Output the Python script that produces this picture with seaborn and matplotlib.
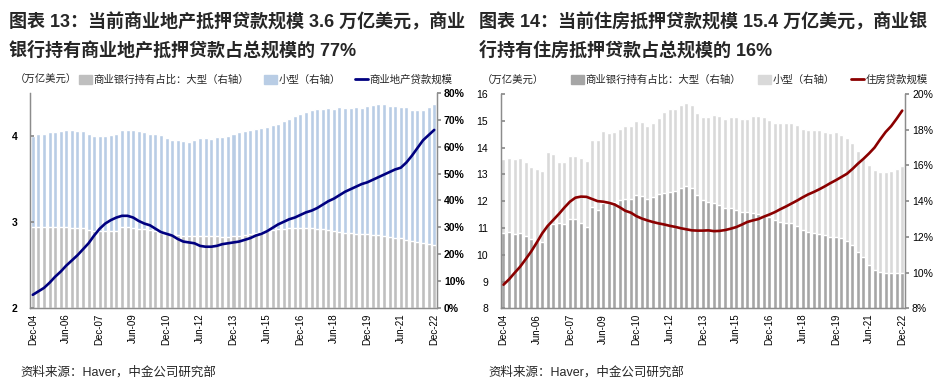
import numpy as np
import pandas as pd
import matplotlib
matplotlib.use("Agg")
import matplotlib.pyplot as plt
import matplotlib.ticker as mticker
from matplotlib.patches import Patch
from matplotlib.lines import Line2D
import seaborn as sns


# ── Data ──────────────────────────────────────────────────────────────────────

quarters = pd.period_range("2004Q4", "2022Q4", freq="Q")
quarter_labels = [p.end_time.strftime("%b-%y") for p in quarters]

# Chart 13: commercial real estate loans (left axis, tn USD) and bank shares (%)
cre_loans = [
    2.15, 2.19, 2.23, 2.29, 2.36, 2.42, 2.49, 2.55, 2.61, 2.68,
    2.75, 2.84, 2.92, 2.98, 3.02, 3.05, 3.07, 3.07, 3.05, 3.01,
    2.98, 2.96, 2.92, 2.88, 2.86, 2.84, 2.80, 2.77, 2.76, 2.75,
    2.72, 2.71, 2.71, 2.72, 2.74, 2.75, 2.76, 2.77, 2.79, 2.81,
    2.84, 2.86, 2.89, 2.93, 2.97, 3.00, 3.03, 3.05, 3.08, 3.11,
    3.13, 3.16, 3.20, 3.24, 3.27, 3.31, 3.35, 3.38, 3.41, 3.44,
    3.46, 3.49, 3.52, 3.55, 3.58, 3.61, 3.63, 3.69, 3.77, 3.86,
    3.95, 4.01, 4.07,
]
cre_total_share = [
    64.1, 64.7, 64.8, 65.6, 65.5, 65.9, 66.2, 66.2, 65.8, 65.9,
    64.9, 63.8, 63.8, 64.1, 64.2, 64.7, 66.2, 66.2, 66.2, 65.9,
    65.5, 64.8, 64.8, 64.3, 63.2, 62.6, 62.5, 62.3, 61.9, 62.6,
    63.3, 63.4, 63.0, 63.6, 63.6, 64.0, 64.6, 65.3, 65.9, 66.3,
    66.7, 66.8, 67.4, 67.9, 68.5, 69.4, 70.4, 71.6, 72.2, 72.9,
    73.8, 74.0, 74.1, 74.4, 74.2, 74.6, 74.4, 74.4, 74.8, 74.4,
    75.0, 75.5, 75.9, 75.8, 75.3, 75.3, 74.9, 74.6, 73.7, 73.8,
    73.8, 74.9, 76.0,
]
cre_large_share = [
    30.0, 29.9, 30.0, 30.0, 29.9, 29.9, 29.9, 29.8, 29.7, 29.6,
    29.1, 28.6, 28.6, 28.5, 28.6, 28.7, 30.1, 30.0, 29.8, 29.5,
    29.3, 28.9, 28.5, 27.8, 27.6, 27.2, 27.0, 26.9, 26.9, 26.8,
    26.8, 26.7, 26.7, 26.7, 26.5, 26.5, 26.6, 26.8, 27.2, 27.5,
    27.9, 28.2, 28.6, 28.9, 29.2, 29.4, 29.6, 29.7, 29.7, 29.7,
    29.6, 29.4, 29.2, 28.9, 28.5, 28.1, 28.0, 27.8, 27.6, 27.4,
    27.3, 27.2, 27.1, 26.8, 26.4, 26.1, 25.8, 25.2, 24.7, 24.3,
    24.0, 23.8, 23.5,
]

# Chart 14: residential mortgage loans (left axis, tn USD) and bank shares (%)
home_loans = [
    8.88, 9.08, 9.32, 9.55, 9.83, 10.12, 10.45, 10.80, 11.08, 11.30,
    11.52, 11.76, 11.98, 12.13, 12.17, 12.16, 12.08, 12.00, 11.98, 11.94,
    11.88, 11.77, 11.64, 11.57, 11.44, 11.35, 11.28, 11.22, 11.17, 11.13,
    11.08, 11.04, 10.99, 10.95, 10.91, 10.90, 10.90, 10.91, 10.88, 10.89,
    10.92, 10.97, 11.03, 11.12, 11.22, 11.28, 11.33, 11.42, 11.50, 11.59,
    11.70, 11.80, 11.91, 12.02, 12.14, 12.25, 12.34, 12.44, 12.55, 12.67,
    12.78, 12.90, 13.02, 13.20, 13.40, 13.58, 13.78, 14.00, 14.30, 14.58,
    14.80, 15.08, 15.38,
]
home_total_share = [
    16.35, 16.40, 16.36, 16.40, 16.20, 15.92, 15.80, 15.68, 16.78, 16.63,
    16.22, 16.20, 16.55, 16.55, 16.43, 16.25, 17.45, 17.42, 17.93, 17.83,
    17.90, 18.02, 18.20, 18.20, 18.50, 18.43, 18.23, 18.35, 18.65, 19.00,
    19.18, 19.18, 19.40, 19.48, 19.37, 18.95, 18.72, 18.70, 18.80, 18.76,
    18.58, 18.70, 18.72, 18.58, 18.58, 18.78, 18.78, 18.72, 18.55, 18.40,
    18.35, 18.35, 18.40, 18.25, 18.04, 17.98, 17.98, 17.98, 17.85, 17.83,
    17.85, 17.70, 17.52, 17.27, 16.81, 16.34, 16.02, 15.74, 15.61, 15.61,
    15.70, 15.78, 15.97,
]
home_large_share = [
    12.23, 12.28, 12.17, 12.20, 12.05, 11.90, 11.78, 11.72, 12.73, 12.73,
    12.76, 12.73, 12.98, 12.98, 12.80, 12.58, 13.67, 13.48, 13.88, 13.88,
    13.93, 14.08, 14.12, 14.12, 14.33, 14.30, 14.12, 14.26, 14.38, 14.45,
    14.50, 14.56, 14.72, 14.87, 14.72, 14.33, 14.05, 13.95, 13.88, 13.78,
    13.63, 13.63, 13.50, 13.41, 13.38, 13.32, 13.26, 13.17, 13.14, 12.94,
    12.85, 12.80, 12.76, 12.62, 12.38, 12.29, 12.23, 12.16, 12.10, 12.01,
    11.97, 11.92, 11.79, 11.55, 11.17, 10.89, 10.42, 10.14, 10.05, 9.99,
    9.99, 9.96, 9.96,
]


# ── Style ─────────────────────────────────────────────────────────────────────

sns.set_theme(style="white")
FONTS = ["Liberation Sans", "Noto Sans CJK SC", "DejaVu Sans"]
plt.rcParams.update({
    "font.family": FONTS,
    "axes.edgecolor": "#8C8C8C",
    "axes.linewidth": 0.9,
    "xtick.color": "#8C8C8C",
    "ytick.color": "#8C8C8C",
    "xtick.labelcolor": "black",
    "ytick.labelcolor": "black",
})

SPINE = "#8C8C8C"


def draw_panel(fig, rect, loans, total, large, colors,
               left_lim, left_ticks, right_lim, right_ticks, bold_ticks):
    pos = np.arange(len(quarters))

    ax = fig.add_axes(rect)
    ax2 = ax.twinx()

    # bars on the right (share) axis: full height = small + large
    sns.barplot(x=pos, y=total, native_scale=True, color=colors["small"],
                saturation=1, width=0.72, errorbar=None, ax=ax2)
    sns.barplot(x=pos, y=large, native_scale=True, color=colors["large"],
                saturation=1, width=0.72, errorbar=None, ax=ax2)

    # loan volume line on the left axis, drawn above the bars
    sns.lineplot(x=pos, y=loans, color=colors["line"], lw=1.9, ax=ax)
    ax.set_zorder(ax2.get_zorder() + 1)
    ax.patch.set_visible(False)

    ax.set_xlim(-0.5, len(quarters) - 0.5)
    ax.set_ylim(*left_lim)
    ax.set_yticks(left_ticks)
    ax2.set_ylim(*right_lim)
    ax2.set_yticks(right_ticks)
    ax2.yaxis.set_major_formatter(mticker.FuncFormatter(lambda v, _: f"{v:.0f}%"))

    ax.set_xticks(pos[::6])
    ax.set_xticklabels(quarter_labels[::6], rotation=90)
    ax.set_xlabel("")
    ax.set_ylabel("")
    ax2.set_xlabel("")
    ax2.set_ylabel("")

    weight = "bold" if bold_ticks else "normal"
    ax.tick_params(axis="x", length=0, pad=4, labelsize=7)
    ax.tick_params(axis="y", direction="in", length=3, pad=9, labelsize=7.5)
    ax2.tick_params(axis="y", direction="out", length=3, pad=2, labelsize=7.5)
    for lab in ax.get_yticklabels() + ax2.get_yticklabels():
        lab.set_fontweight(weight)

    for a in (ax, ax2):
        a.spines["top"].set_visible(False)
        for s in ("left", "right", "bottom"):
            a.spines[s].set_color(SPINE)
    return ax, ax2


fig = plt.figure(figsize=(9.49, 3.86), dpi=100)
fig.patch.set_facecolor("white")

LEGEND_KW = dict(loc="center left", ncol=3, frameon=False, fontsize=7.5,
                 handlelength=1.25, handleheight=0.9, handletextpad=0.15,
                 borderpad=0, borderaxespad=0)

# ── Chart 13 ──────────────────────────────────────────────────────────────────
left_colors = {"large": "#BFBFBF", "small": "#B9CDE5", "line": "#000080"}
draw_panel(fig, [30 / 949, 1 - 307.7 / 386, 407 / 949, 214.7 / 386],
           cre_loans, cre_total_share, cre_large_share, left_colors,
           (2, 4.5), [2, 3, 4], (0, 80), list(range(0, 81, 10)), True)

fig.text(9 / 949, 1 - 22 / 386, "图表 13：当前商业地产抵押贷款规模 3.6 万亿美元，商业",
         fontsize=13, fontweight="bold", va="center", ha="left")
fig.text(9 / 949, 1 - 50 / 386, "银行持有商业地产抵押贷款占总规模的 77%",
         fontsize=13, fontweight="bold", va="center", ha="left")
fig.text(15 / 949, 1 - 80 / 386, "（万亿美元）", fontsize=7.5, va="center", ha="left")
fig.legend(
    handles=[Patch(color=left_colors["large"]), Patch(color=left_colors["small"]),
             Line2D([], [], color=left_colors["line"], lw=2)],
    labels=["商业银行持有占比：大型（右轴）", "小型（右轴）", "商业地产贷款规模"],
    bbox_to_anchor=(79 / 949, 1 - 80 / 386), columnspacing=1.4, **LEGEND_KW,
)
fig.text(20 / 949, 1 - 372 / 386, "资料来源：Haver，中金公司研究部",
         fontsize=9, va="center", ha="left")

# ── Chart 14 ──────────────────────────────────────────────────────────────────
right_colors = {"large": "#A6A6A6", "small": "#D9D9D9", "line": "#8B0000"}
draw_panel(fig, [500.7 / 949, 1 - 308.3 / 386, 404.3 / 949, 214.3 / 386],
           home_loans, home_total_share, home_large_share, right_colors,
           (8, 16), list(range(8, 17)), (8, 20), list(range(8, 21, 2)), False)

fig.text(479 / 949, 1 - 22 / 386, "图表 14：当前住房抵押贷款规模 15.4 万亿美元，商业银",
         fontsize=13, fontweight="bold", va="center", ha="left")
fig.text(479 / 949, 1 - 50 / 386, "行持有住房抵押贷款占总规模的 16%",
         fontsize=13, fontweight="bold", va="center", ha="left")
fig.text(482 / 949, 1 - 81 / 386, "（万亿美元）", fontsize=7.5, va="center", ha="left")
fig.legend(
    handles=[Patch(color=right_colors["large"]), Patch(color=right_colors["small"]),
             Line2D([], [], color=right_colors["line"], lw=2)],
    labels=["商业银行持有占比：大型（右轴）", "小型（右轴）", "住房贷款规模"],
    bbox_to_anchor=(571 / 949, 1 - 80 / 386), columnspacing=1.6, **LEGEND_KW,
)
fig.text(488 / 949, 1 - 372 / 386, "资料来源：Haver，中金公司研究部",
         fontsize=9, va="center", ha="left")

fig.savefig("out.png", dpi=100, facecolor="white")
